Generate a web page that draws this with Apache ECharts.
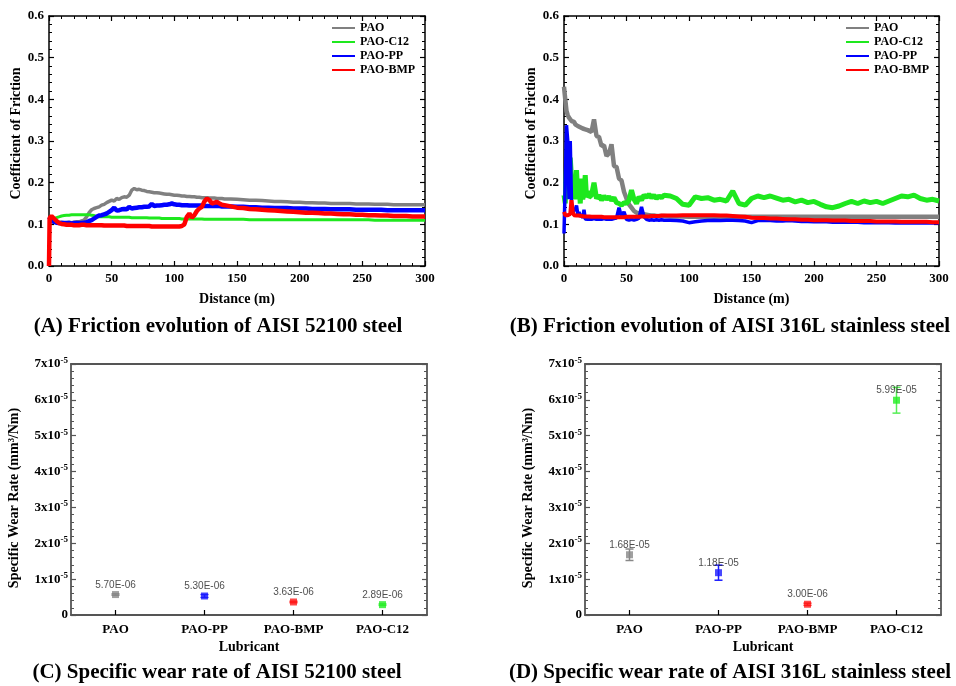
<!DOCTYPE html>
<html>
<head>
<meta charset="utf-8">
<script src="https://cdn.jsdelivr.net/npm/echarts@6/dist/echarts.min.js"></script>
<style>
  html, body { margin: 0; padding: 0; background: #fff; }
  #chart { width: 956px; height: 686px; }
</style>
</head>
<body>
<div id="chart"></div>
<script>
// ---- Friction tests: sliding distance (m) and coefficient of friction ----
const seriesNames = ['PAO', 'PAO-C12', 'PAO-PP', 'PAO-BMP'];

// AISI 52100 steel
const distA = [
  0, 0.5, 2, 4, 6, 8, 10, 12, 14, 16,
  18, 20, 22, 24, 26, 28, 30, 32, 34, 36,
  38, 40, 42, 44, 46, 48, 50, 52, 54, 56,
  58, 60, 62, 64, 66, 68, 70, 72, 74, 76,
  78, 80, 82, 84, 86, 88, 90, 92, 94, 96,
  98, 100, 102, 104, 106, 108, 110, 112, 114, 116,
  118, 120, 122, 124, 126, 128, 130, 132, 134, 136,
  138, 140, 145, 150, 155, 160, 165, 170, 175, 180,
  185, 190, 195, 200, 205, 210, 215, 220, 225, 230,
  235, 240, 245, 250, 255, 260, 265, 270, 275, 280,
  285, 290, 295, 300
];
const paoA = [
  0.108, 0.108, 0.106, 0.105, 0.104, 0.104, 0.105, 0.104, 0.104, 0.105,
  0.104, 0.105, 0.106, 0.106, 0.108, 0.110, 0.118, 0.128, 0.135, 0.138,
  0.140, 0.142, 0.146, 0.148, 0.152, 0.155, 0.158, 0.156, 0.162, 0.160,
  0.164, 0.166, 0.165, 0.170, 0.182, 0.186, 0.183, 0.184, 0.182, 0.181,
  0.179, 0.178, 0.177, 0.176, 0.176, 0.175, 0.174, 0.173, 0.172, 0.172,
  0.171, 0.170, 0.170, 0.169, 0.168, 0.168, 0.167, 0.167, 0.166, 0.166,
  0.165, 0.165, 0.164, 0.164, 0.164, 0.163, 0.163, 0.163, 0.162, 0.162,
  0.162, 0.161, 0.161, 0.160, 0.159, 0.158, 0.158, 0.157, 0.156, 0.155,
  0.155, 0.154, 0.153, 0.153, 0.152, 0.152, 0.151, 0.151, 0.150, 0.150,
  0.150, 0.150, 0.149, 0.149, 0.149, 0.148, 0.148, 0.148, 0.147, 0.147,
  0.147, 0.147, 0.147, 0.147
];
const c12A = [
  0.110, 0.111, 0.112, 0.114, 0.116, 0.118, 0.120, 0.121, 0.122, 0.122,
  0.123, 0.123, 0.123, 0.123, 0.123, 0.123, 0.123, 0.123, 0.122, 0.121,
  0.119, 0.118, 0.118, 0.118, 0.118, 0.118, 0.117, 0.117, 0.117, 0.117,
  0.117, 0.117, 0.117, 0.117, 0.116, 0.116, 0.116, 0.116, 0.116, 0.116,
  0.116, 0.115, 0.115, 0.115, 0.115, 0.115, 0.114, 0.114, 0.114, 0.114,
  0.114, 0.114, 0.114, 0.114, 0.113, 0.113, 0.113, 0.113, 0.113, 0.113,
  0.113, 0.113, 0.113, 0.112, 0.112, 0.112, 0.112, 0.112, 0.112, 0.112,
  0.112, 0.112, 0.112, 0.112, 0.112, 0.111, 0.111, 0.111, 0.111, 0.111,
  0.111, 0.111, 0.111, 0.111, 0.111, 0.111, 0.111, 0.111, 0.111, 0.111,
  0.111, 0.111, 0.111, 0.111, 0.111, 0.110, 0.110, 0.110, 0.110, 0.110,
  0.110, 0.110, 0.110, 0.110
];
const ppA = [
  0.118, 0.116, 0.110, 0.106, 0.104, 0.103, 0.103, 0.103, 0.103, 0.103,
  0.102, 0.103, 0.103, 0.103, 0.103, 0.104, 0.105, 0.108, 0.110, 0.114,
  0.118, 0.121, 0.122, 0.124, 0.126, 0.130, 0.134, 0.140, 0.133, 0.134,
  0.136, 0.137, 0.136, 0.142, 0.138, 0.139, 0.140, 0.141, 0.141, 0.142,
  0.142, 0.143, 0.149, 0.144, 0.145, 0.145, 0.146, 0.147, 0.147, 0.148,
  0.150, 0.148, 0.147, 0.147, 0.146, 0.146, 0.146, 0.145, 0.145, 0.145,
  0.145, 0.145, 0.145, 0.144, 0.144, 0.144, 0.144, 0.144, 0.144, 0.144,
  0.143, 0.143, 0.143, 0.142, 0.142, 0.141, 0.141, 0.140, 0.140, 0.139,
  0.139, 0.139, 0.138, 0.138, 0.138, 0.137, 0.137, 0.137, 0.136, 0.136,
  0.136, 0.136, 0.135, 0.135, 0.135, 0.135, 0.135, 0.134, 0.134, 0.134,
  0.134, 0.134, 0.134, 0.134
];
const bmpA = [
  0.000, 0.115, 0.120, 0.114, 0.108, 0.103, 0.101, 0.100, 0.099, 0.099,
  0.099, 0.098, 0.098, 0.098, 0.099, 0.099, 0.098, 0.098, 0.098, 0.098,
  0.098, 0.098, 0.098, 0.097, 0.097, 0.097, 0.097, 0.097, 0.097, 0.097,
  0.097, 0.097, 0.096, 0.096, 0.096, 0.096, 0.096, 0.096, 0.096, 0.096,
  0.096, 0.096, 0.095, 0.095, 0.095, 0.095, 0.095, 0.095, 0.095, 0.095,
  0.095, 0.095, 0.095, 0.095, 0.096, 0.100, 0.118, 0.126, 0.116, 0.122,
  0.132, 0.138, 0.142, 0.155, 0.162, 0.158, 0.150, 0.152, 0.154, 0.150,
  0.147, 0.146, 0.143, 0.140, 0.139, 0.137, 0.136, 0.135, 0.134, 0.133,
  0.132, 0.131, 0.130, 0.129, 0.128, 0.128, 0.127, 0.126, 0.126, 0.125,
  0.124, 0.124, 0.123, 0.123, 0.122, 0.122, 0.121, 0.121, 0.120, 0.120,
  0.120, 0.119, 0.119, 0.119
];

// AISI 316L stainless steel
const distB = [
  0, 1, 2, 3, 4, 5, 6, 7, 8, 9,
  10, 11, 12, 13, 14, 15, 16, 17, 18, 19,
  20, 22, 24, 26, 28, 30, 32, 34, 36, 38,
  40, 42, 44, 46, 48, 50, 52, 54, 56, 58,
  60, 62, 64, 66, 68, 70, 72, 74, 76, 78,
  80, 85, 90, 95, 100, 105, 110, 115, 120, 125,
  130, 135, 140, 145, 150, 155, 160, 165, 170, 175,
  180, 185, 190, 195, 200, 205, 210, 215, 220, 225,
  230, 235, 240, 245, 250, 255, 260, 265, 270, 275,
  280, 285, 290, 295, 300
];
const paoB = [
  0.430, 0.400, 0.372, 0.362, 0.356, 0.352, 0.348, 0.345, 0.346, 0.340,
  0.342, 0.336, 0.338, 0.333, 0.336, 0.330, 0.334, 0.328, 0.332, 0.326,
  0.330, 0.322, 0.352, 0.312, 0.310, 0.288, 0.290, 0.264, 0.270, 0.292,
  0.240, 0.238, 0.210, 0.205, 0.178, 0.162, 0.148, 0.140, 0.132, 0.128,
  0.126, 0.125, 0.124, 0.123, 0.122, 0.121, 0.121, 0.120, 0.120, 0.120,
  0.120, 0.119, 0.119, 0.119, 0.118, 0.118, 0.118, 0.118, 0.118, 0.118,
  0.118, 0.118, 0.118, 0.118, 0.118, 0.118, 0.118, 0.118, 0.118, 0.118,
  0.118, 0.118, 0.118, 0.118, 0.118, 0.118, 0.118, 0.118, 0.118, 0.118,
  0.118, 0.118, 0.118, 0.118, 0.118, 0.118, 0.118, 0.118, 0.118, 0.118,
  0.118, 0.118, 0.118, 0.118, 0.118
];
const c12B = [
  0.170, 0.150, 0.240, 0.286, 0.200, 0.260, 0.210, 0.180, 0.215, 0.160,
  0.230, 0.170, 0.200, 0.150, 0.210, 0.160, 0.175, 0.218, 0.165, 0.180,
  0.165, 0.170, 0.200, 0.162, 0.170, 0.158, 0.168, 0.160, 0.166, 0.158,
  0.164, 0.152, 0.150, 0.146, 0.152, 0.150, 0.158, 0.182, 0.160, 0.150,
  0.166, 0.158, 0.170, 0.165, 0.172, 0.164, 0.170, 0.162, 0.168, 0.164,
  0.170, 0.168, 0.162, 0.148, 0.146, 0.166, 0.162, 0.164, 0.158, 0.160,
  0.156, 0.180, 0.150, 0.146, 0.162, 0.168, 0.164, 0.168, 0.163, 0.158,
  0.160, 0.154, 0.158, 0.152, 0.155, 0.148, 0.142, 0.140, 0.144, 0.150,
  0.155, 0.150, 0.156, 0.152, 0.155, 0.150, 0.156, 0.162, 0.168, 0.166,
  0.170, 0.162, 0.158, 0.160, 0.156
];
const ppB = [
  0.078, 0.200, 0.338, 0.300, 0.160, 0.300, 0.150, 0.132, 0.128, 0.135,
  0.145, 0.125, 0.130, 0.118, 0.125, 0.115, 0.135, 0.113, 0.115, 0.112,
  0.114, 0.112, 0.114, 0.112, 0.113, 0.112, 0.114, 0.112, 0.113, 0.112,
  0.114, 0.115, 0.140, 0.118, 0.130, 0.112, 0.110, 0.112, 0.110, 0.112,
  0.115, 0.142, 0.118, 0.112, 0.110, 0.111, 0.110, 0.111, 0.110, 0.111,
  0.110, 0.110, 0.109, 0.108, 0.104, 0.106, 0.108, 0.109, 0.110, 0.109,
  0.110, 0.110, 0.109, 0.108, 0.104, 0.109, 0.110, 0.109, 0.108, 0.108,
  0.109, 0.108, 0.107, 0.107, 0.106, 0.106, 0.106, 0.105, 0.105, 0.105,
  0.105, 0.105, 0.104, 0.104, 0.104, 0.104, 0.104, 0.103, 0.104, 0.103,
  0.103, 0.103, 0.103, 0.103, 0.103
];
const bmpB = [
  0.130, 0.122, 0.120, 0.122, 0.118, 0.125, 0.158, 0.130, 0.122, 0.120,
  0.121, 0.120, 0.121, 0.120, 0.120, 0.120, 0.119, 0.120, 0.119, 0.119,
  0.119, 0.118, 0.118, 0.118, 0.118, 0.118, 0.117, 0.117, 0.117, 0.117,
  0.117, 0.117, 0.117, 0.117, 0.117, 0.118, 0.118, 0.118, 0.118, 0.118,
  0.118, 0.119, 0.119, 0.119, 0.119, 0.120, 0.120, 0.120, 0.120, 0.121,
  0.121, 0.121, 0.121, 0.122, 0.122, 0.122, 0.122, 0.122, 0.122, 0.121,
  0.121, 0.120, 0.119, 0.118, 0.116, 0.115, 0.115, 0.114, 0.114, 0.113,
  0.112, 0.112, 0.111, 0.111, 0.110, 0.110, 0.110, 0.109, 0.109, 0.109,
  0.108, 0.108, 0.108, 0.108, 0.107, 0.107, 0.107, 0.107, 0.106, 0.106,
  0.106, 0.106, 0.106, 0.105, 0.105
];

// ---- Specific wear rate (mm^3/Nm) per lubricant ----
const lubricants = ['PAO', 'PAO-PP', 'PAO-BMP', 'PAO-C12'];
const wear52100 = [5.70e-6, 5.30e-6, 3.63e-6, 2.89e-6];
const wearErr52100 = [0.2e-6, 0.4e-6, 0.2e-6, 0.2e-6];
const wear316L = [1.68e-5, 1.18e-5, 3.00e-6, 5.99e-5];
const wearErr316L = [1.6e-6, 2.1e-6, 0.3e-6, 3.6e-6];
const wearTicks = ['0', '1', '2', '3', '4', '5', '6', '7'];

// ---- styling ----
const SERIF = '"Liberation Serif", "Times New Roman", serif';
const SANS = '"Liberation Sans", Arial, sans-serif';
const lineColors = { 'PAO': '#808080', 'PAO-C12': '#1ee81e', 'PAO-PP': '#0000ff', 'PAO-BMP': '#ff0000' };
const lineWidthsA = { 'PAO': 3.5, 'PAO-C12': 3, 'PAO-PP': 4.5, 'PAO-BMP': 4.5 };
const lineWidthsB = { 'PAO': 4.5, 'PAO-C12': 5, 'PAO-PP': 3.5, 'PAO-BMP': 4 };
const markerColors = { 'PAO': '#888888', 'PAO-PP': '#1a1aff', 'PAO-BMP': '#ff1a1a', 'PAO-C12': '#22ee22' };
const errColors = { 'PAO': '#888888', 'PAO-PP': '#1a1aff', 'PAO-BMP': '#ff1a1a', 'PAO-C12': '#55ee55' };

const boldSerif = (size) => ({ color: '#000', fontFamily: SERIF, fontWeight: 'bold', fontSize: size });

function frictionAxes(grid, frameColor) {
  const line = { show: true, onZero: false, lineStyle: { color: frameColor, width: 1.5 } };
  const tick = { show: true, inside: true, length: 5, lineStyle: { color: frameColor, width: 1.2 } };
  const minor = { show: true, splitNumber: 5, length: 3, lineStyle: { color: frameColor, width: 1 } };
  const xBase = { gridIndex: grid, type: 'value', min: 0, max: 300, interval: 50,
    axisLine: line, axisTick: tick, minorTick: minor, splitLine: { show: false } };
  const yBase = { gridIndex: grid, type: 'value', min: 0, max: 0.6, interval: 0.1,
    axisLine: line, axisTick: tick, minorTick: minor, splitLine: { show: false } };
  return {
    x: [
      Object.assign({}, xBase, { position: 'bottom',
        axisLabel: Object.assign(boldSerif(13), { margin: 6 }),
        name: 'Distance (m)', nameLocation: 'middle', nameGap: 26,
        nameTextStyle: boldSerif(14) }),
      Object.assign({}, xBase, { position: 'top', axisLabel: { show: false } })
    ],
    y: [
      Object.assign({}, yBase, { position: 'left',
        axisLabel: Object.assign(boldSerif(13), { margin: 5, formatter: v => v.toFixed(1) }),
        name: 'Coefficient of Friction', nameLocation: 'middle', nameGap: 26,
        nameRotate: 90, nameTextStyle: Object.assign(boldSerif(14), { padding: [0, 0, 0, 15] }) }),
      Object.assign({}, yBase, { position: 'right', axisLabel: { show: false } })
    ]
  };
}

function wearAxes(grid) {
  const frameColor = '#555';
  const line = { show: true, onZero: false, lineStyle: { color: frameColor, width: 1.8 } };
  const xBase = { gridIndex: grid, type: 'category', data: lubricants, boundaryGap: true,
    axisLine: line, splitLine: { show: false } };
  const yBase = { gridIndex: grid, type: 'value', min: 0, max: 7e-5, interval: 1e-5,
    axisLine: line, splitLine: { show: false },
    axisTick: { show: true, inside: true, length: 5, lineStyle: { color: frameColor, width: 1.2 } },
    minorTick: { show: true, splitNumber: 5, length: 3, lineStyle: { color: frameColor, width: 1 } } };
  return {
    x: [
      Object.assign({}, xBase, { position: 'bottom',
        axisTick: { show: true, inside: true, alignWithLabel: true, length: 5,
          lineStyle: { color: '#000', width: 1.2 } },
        axisLabel: Object.assign(boldSerif(13), { margin: 8, interval: 0 }),
        name: 'Lubricant', nameLocation: 'middle', nameGap: 25,
        nameTextStyle: boldSerif(14) }),
      Object.assign({}, xBase, { position: 'top', axisTick: { show: false }, axisLabel: { show: false } })
    ],
    y: [
      Object.assign({}, yBase, { position: 'left',
        axisLabel: Object.assign(boldSerif(13), {
          margin: 3,
          formatter: v => {
            const n = wearTicks[Math.round(v * 1e5)];
            return n === '0' ? '{n|0}' : '{n|' + n + 'x10}{s|-5}';
          },
          rich: {
            n: Object.assign(boldSerif(13), { lineHeight: 16 }),
            s: Object.assign(boldSerif(9), { lineHeight: 16, verticalAlign: 'top', padding: [0, 0, 6, 0] })
          }
        }),
        name: 'Specific Wear Rate (mm³/Nm)', nameLocation: 'middle', nameGap: 50,
        nameRotate: 90, nameTextStyle: Object.assign(boldSerif(14), { padding: [0, 17, 0, 0] }) }),
      Object.assign({}, yBase, { position: 'right', axisLabel: { show: false } })
    ]
  };
}

const axA = frictionAxes(0, '#000');
const axB = frictionAxes(1, '#000');
const axC = wearAxes(2);
const axD = wearAxes(3);

const frictionSets = [
  { grid: 0, dist: distA, widths: lineWidthsA,
    values: { 'PAO': paoA, 'PAO-C12': c12A, 'PAO-PP': ppA, 'PAO-BMP': bmpA } },
  { grid: 1, dist: distB, widths: lineWidthsB,
    values: { 'PAO': paoB, 'PAO-C12': c12B, 'PAO-PP': ppB, 'PAO-BMP': bmpB } }
];

const series = [];
frictionSets.forEach(set => {
  seriesNames.forEach(name => {
    series.push({
      type: 'line', name: name,
      xAxisIndex: set.grid * 2, yAxisIndex: set.grid * 2,
      data: set.dist.map((d, i) => [d, set.values[name][i]]),
      showSymbol: false, symbol: 'none', silent: true, animation: false,
      lineStyle: { color: lineColors[name], width: set.widths[name], join: 'bevel' },
      itemStyle: { color: lineColors[name] }
    });
  });
});

function fmtE(v) {
  return v.toExponential(2).toUpperCase().replace(/E([+-])(\d)$/, 'E$10$2');
}

function wearSeries(axisIndex, values, errs) {
  const errData = values.map((v, i) => [i, v, errs[i]]);
  series.push({
    type: 'custom', xAxisIndex: axisIndex, yAxisIndex: axisIndex, silent: true, animation: false, z: 2,
    data: errData,
    renderItem: (params, api) => {
      const i = api.value(0), v = api.value(1), e = api.value(2);
      const hi = api.coord([i, v + e]);
      const lo = api.coord([i, v - e]);
      const stroke = { stroke: errColors[lubricants[i]], lineWidth: 1.5 };
      return {
        type: 'group',
        children: [
          { type: 'line', shape: { x1: hi[0], y1: hi[1], x2: lo[0], y2: lo[1] }, style: stroke },
          { type: 'line', shape: { x1: hi[0] - 4, y1: hi[1], x2: hi[0] + 4, y2: hi[1] }, style: stroke },
          { type: 'line', shape: { x1: lo[0] - 4, y1: lo[1], x2: lo[0] + 4, y2: lo[1] }, style: stroke }
        ]
      };
    }
  });
  series.push({
    type: 'scatter', xAxisIndex: axisIndex, yAxisIndex: axisIndex, silent: true, animation: false, z: 3,
    symbol: 'rect', symbolSize: 7,
    data: values.map((v, i) => ({ value: [i, v], itemStyle: { color: markerColors[lubricants[i]] } })),
    label: {
      show: true, position: 'top', distance: 1,
      formatter: p => fmtE(p.value[1]),
      color: '#222', fontFamily: SANS, fontSize: 10
    }
  });
}
wearSeries(4, wear52100, wearErr52100);
wearSeries(6, wear316L, wearErr316L);

const legendBase = {
  orient: 'vertical', data: seriesNames, icon: 'rect', itemWidth: 23, itemHeight: 2,
  itemGap: 2, selectedMode: false, padding: 0,
  textStyle: Object.assign(boldSerif(12), { lineHeight: 12 })
};

function caption(x, y, text) {
  return { type: 'text', x: x, y: y, silent: true,
    style: { text: text, fontFamily: SERIF, fontWeight: 'bold', fontSize: 21, fill: '#000',
      textAlign: 'center', textVerticalAlign: 'middle', align: 'center', verticalAlign: 'middle' } };
}

const chart = echarts.init(document.getElementById('chart'), null, { renderer: 'canvas' });
chart.setOption({
  animation: false,
  backgroundColor: '#fff',
  grid: [
    { left: 49, top: 16, width: 376, height: 250 },
    { left: 564, top: 16, width: 375, height: 250 },
    { left: 71, top: 364, width: 356, height: 251 },
    { left: 585, top: 364, width: 356, height: 251 }
  ],
  xAxis: [].concat(axA.x, axB.x, axC.x, axD.x),
  yAxis: [].concat(axA.y, axB.y, axC.y, axD.y),
  legend: [
    Object.assign({}, legendBase, { left: 332, top: 22 }),
    Object.assign({}, legendBase, { left: 846, top: 22 })
  ],
  graphic: [
    caption(218, 327, '(A) Friction evolution of AISI 52100 steel'),
    caption(730, 327, '(B) Friction evolution of AISI 316L stainless steel'),
    caption(217, 673, '(C) Specific wear rate of AISI 52100 steel'),
    caption(730, 673, '(D) Specific wear rate of AISI 316L stainless steel')
  ],
  series: series
});
</script>
</body>
</html>
